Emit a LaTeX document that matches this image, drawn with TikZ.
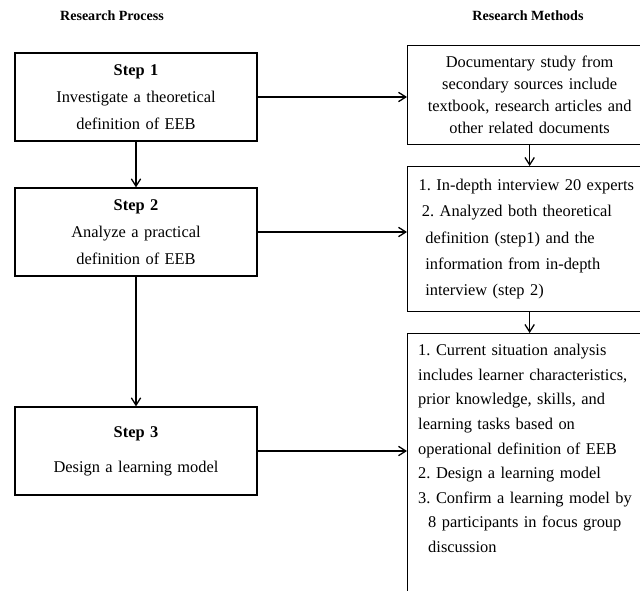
\documentclass[tikz,border=0pt]{standalone}
\usepackage{fontspec}
\setmainfont{Liberation Serif}
\usepackage{tikz}
\usetikzlibrary{positioning,arrows.meta}
\frenchspacing

\begin{document}
\begin{tikzpicture}[x=0.03cm, y=-0.03cm,
  every node/.style={font=\fontsize{14}{20}\selectfont},
  heading/.style={font=\fontsize{12}{14}\selectfont\bfseries},
  stepbox/.style={draw, line width=1.1pt, minimum width=7.26cm, minimum height=2.64cm,
    text width=6.8cm, align=center, font=\fontsize{14}{23}\selectfont},
  methodbox/.style={draw, line width=1.1pt, anchor=north west, inner xsep=0.33cm,
    text width=6.66cm},
  conn/.style={-{Straight Barb[length=2.2mm, width=2.8mm]}, line width=1.1pt}]
\clip (0,0) rectangle (640,591);

% column headings
\node[heading] (hproc) at (112,16) {Research Process};
\node[heading] (hmeth) at (528,16) {Research Methods};

% research process
\node[stepbox] (s1) at (136,97) {\textbf{Step 1}\\Investigate a theoretical\\definition of EEB};
\node[stepbox] (s2) at (136,232) {\textbf{Step 2}\\Analyze a practical\\definition of EEB};
\node[stepbox] (s3) at (136,451) {\textbf{Step 3}\\[7pt]Design a learning model};

% research methods
\node[methodbox, minimum height=2.97cm, align=center, font=\fontsize{14}{18.7}\selectfont] (m1) at (407,45)
  {Documentary study from\\secondary sources include\\textbook, research articles and\\other related documents};
\node[methodbox, minimum height=4.35cm, align=left, font=\fontsize{14}{22.5}\selectfont] (m2) at (407,166)
  {1. In-depth interview 20 experts\\
   \hspace*{0.1cm}2. Analyzed both theoretical\\
   \hspace*{0.2cm}definition (step1) and the\\
   \hspace*{0.2cm}information from in-depth\\
   \hspace*{0.2cm}interview (step 2)};
\node[methodbox, minimum height=8.1cm] (m3) at (407,333) {};
\node[anchor=north west, inner sep=0pt, text width=6.66cm, align=left, font=\fontsize{14}{21}\selectfont]
  (m3text) at ([xshift=0.33cm, yshift=-0.33cm]m3.north west)
  {1. Current situation analysis\\
   includes learner characteristics,\\
   prior knowledge, skills, and\\
   learning tasks based on\\
   operational definition of EEB\\
   2. Design a learning model\\
   3. Confirm a learning model by\\
   \hspace*{0.3cm}8 participants in focus group\\
   \hspace*{0.3cm}discussion};

% connectors
\draw[conn] (s1) -- (s2);
\draw[conn] (s2) -- (s3);
\draw[conn] (s1.east) -- (s1.east -| m1.west);
\draw[conn] (s2.east) -- (s2.east -| m2.west);
\draw[conn] (s3.east) -- (s3.east -| m3.west);
\draw[conn] (m1) -- (m2);
\draw[conn] (m2.south) -- (m2.south |- m3.north);
\end{tikzpicture}
\end{document}
